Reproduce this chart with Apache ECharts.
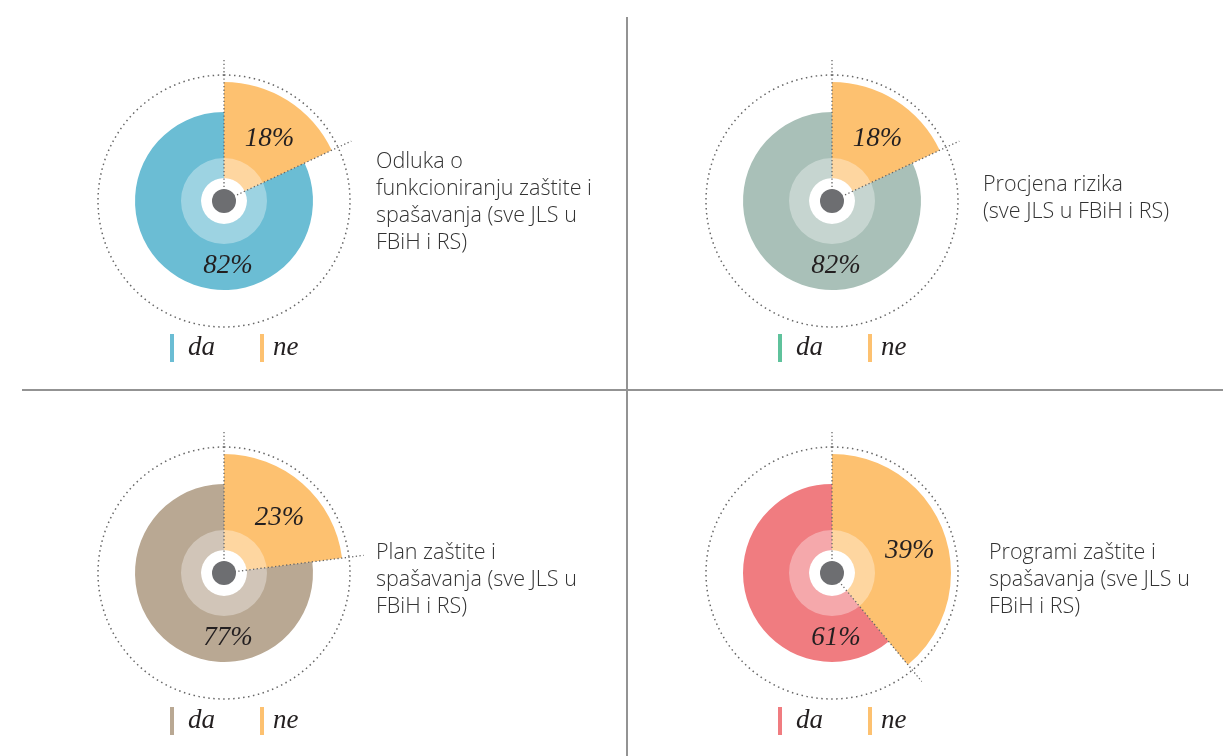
<!DOCTYPE html>
<html>
<head>
<meta charset="utf-8">
<script src="https://cdn.jsdelivr.net/npm/echarts@6/dist/echarts.min.js"></script>
<style>
    html, body { margin: 0; padding: 0; background: #fff; }
    #chart { width: 1223px; height: 756px; }
</style>
</head>
<body>
<div id="chart"></div>
<script>
// 数据
const categories = ['da', 'ne'];
const panelTitles = [
    'Odluka o\nfunkcioniranju zaštite i\nspašavanja (sve JLS u\nFBiH i RS)',
    'Procjena rizika\n(sve JLS u FBiH i RS)',
    'Plan zaštite i\nspašavanja (sve JLS u\nFBiH i RS)',
    'Programi zaštite i\nspašavanja (sve JLS u\nFBiH i RS)',
];
const daValues = [82, 82, 77, 61];
const neValues = [18, 18, 23, 39];

// 颜色
const daColors = ['#6bbdd4', '#a9c0b8', '#b9a893', '#f07c80'];
const daLegendColors = ['#6bbdd4', '#5fc29c', '#b9a893', '#f07c80'];
const neColor = '#fdc170';
const dotColor = '#6d6e71';
const dashColor = '#666';

// 布局
const centers = [[224, 201], [832, 201], [224, 573], [832, 573]];
const titlePos = [[376, 149], [983, 172], [376, 540], [989, 540]];
const legendPos = [[170, 334], [778, 334], [170, 707], [778, 707]];

const serifItalic = {
    fontFamily: 'Liberation Serif',
    fontStyle: 'italic',
    color: '#231f20',
};

const myChart = echarts.init(document.getElementById('chart'));

const series = [];
const polar = [];
const angleAxis = [];
const radiusAxis = [];
const title = [];
const legend = [];

centers.forEach((c, i) => {
    const center = [c[0], c[1]];

    // 底层饼图 (da + ne)
    series.push({
        type: 'pie',
        silent: true,
        z: 2,
        center,
        radius: [0, 89],
        startAngle: 90,
        label: { show: false },
        labelLine: { show: false },
        itemStyle: { borderWidth: 0 },
        data: [
            { name: 'ne', value: neValues[i], itemStyle: { color: neColor } },
            { name: 'da', value: daValues[i], itemStyle: { color: daColors[i] } },
        ],
    });

    // ne 外扩扇区
    series.push({
        type: 'pie',
        silent: true,
        z: 2,
        center,
        radius: [34, 119],
        startAngle: 90,
        labelLine: { show: false },
        labelLayout: { dx: 3, dy: 5 },
        itemStyle: { borderWidth: 0 },
        data: [
            {
                name: 'ne',
                value: neValues[i],
                itemStyle: { color: neColor },
                label: {
                    show: true,
                    position: 'inside',
                    formatter: '{c}%',
                    fontSize: 27,
                    ...serifItalic,
                },
            },
            { name: 'da', value: daValues[i], itemStyle: { color: 'rgba(0,0,0,0)' }, label: { show: false } },
        ],
    });

    // 内部浅色环
    series.push({
        type: 'pie',
        silent: true,
        z: 3,
        center,
        radius: [23, 43],
        label: { show: false },
        itemStyle: { color: 'rgba(255,255,255,0.34)', borderWidth: 0 },
        data: [1],
    });

    // 白色圆心
    series.push({
        type: 'pie',
        silent: true,
        z: 4,
        center,
        radius: [0, 23],
        label: { show: false },
        itemStyle: { color: '#fff', borderWidth: 0 },
        data: [1],
    });

    // 中心圆点
    series.push({
        type: 'pie',
        silent: true,
        z: 6,
        center,
        radius: [0, 12],
        label: { show: false },
        itemStyle: { color: dotColor, borderWidth: 0 },
        data: [1],
    });

    // 外部虚线圆
    series.push({
        type: 'pie',
        silent: true,
        z: 1,
        center,
        radius: [0, 126],
        label: { show: false },
        itemStyle: {
            color: 'rgba(0,0,0,0)',
            borderColor: dashColor,
            borderWidth: 1.5,
            borderType: [1.5, 3.5],
        },
        data: [1],
    });

    // 极坐标: 分隔虚线
    polar.push({ center, radius: 141 });
    angleAxis.push({
        polarIndex: i,
        type: 'value',
        min: 0,
        max: 100,
        startAngle: 90,
        clockwise: true,
        show: false,
    });
    radiusAxis.push({
        polarIndex: i,
        type: 'value',
        min: 0,
        max: 141,
        show: false,
    });
    series.push({
        type: 'line',
        coordinateSystem: 'polar',
        polarIndex: i,
        silent: true,
        z: 5,
        symbol: 'none',
        lineStyle: { color: dashColor, width: 1.3, type: [1.3, 2.4] },
        data: [[141, 0], [0, 0], [141, neValues[i]]],
    });

    // da 百分比
    title.push({
        text: daValues[i] + '%',
        left: c[0] + 4,
        top: c[1] + 65,
        padding: 0,
        textAlign: 'center',
        textVerticalAlign: 'middle',
        textStyle: { fontSize: 27, fontWeight: 'normal', ...serifItalic },
    });

    // 面板标题
    title.push({
        text: panelTitles[i],
        left: titlePos[i][0],
        top: titlePos[i][1],
        padding: 0,
        textStyle: {
            fontFamily: 'Open Sans',
            fontWeight: 300,
            fontSize: 21.5,
            lineHeight: 26.7,
            color: '#333',
        },
    });

    // 图例
    legend.push({
        left: legendPos[i][0],
        top: legendPos[i][1],
        padding: 0,
        orient: 'horizontal',
        selectedMode: false,
        icon: 'rect',
        itemWidth: 4,
        itemHeight: 28,
        itemGap: 45,
        formatter: (name) => (name === categories[0] ? '{d|' + name + '}' : '{n|' + name + '}'),
        textStyle: {
            fontSize: 27,
            ...serifItalic,
            rich: {
                d: { fontSize: 27, ...serifItalic, padding: [0, 0, 0, 9] },
                n: { fontSize: 27, ...serifItalic, padding: [0, 0, 0, 4] },
            },
        },
        data: [
            { name: categories[0], itemStyle: { color: daLegendColors[i] } },
            { name: categories[1], itemStyle: { color: neColor } },
        ],
    });
});

const option = {
    animation: false,
    backgroundColor: '#fff',
    title,
    legend,
    polar,
    angleAxis,
    radiusAxis,
    series,
    // 分隔线
    graphic: [
        { type: 'line', shape: { x1: 627, y1: 17, x2: 627, y2: 756 }, style: { stroke: '#939393', lineWidth: 2 } },
        { type: 'line', shape: { x1: 22, y1: 390, x2: 1223, y2: 390 }, style: { stroke: '#939393', lineWidth: 2 } },
    ],
};

myChart.setOption(option);
</script>
</body>
</html>
